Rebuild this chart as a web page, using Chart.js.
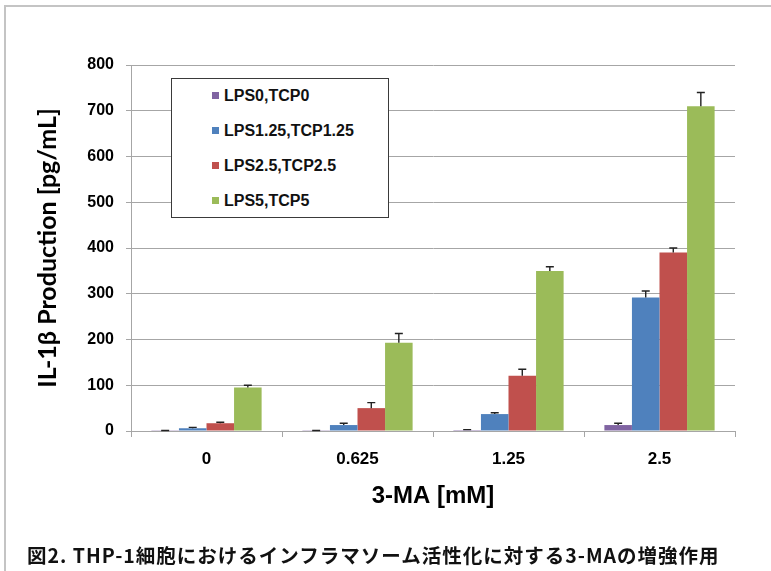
<!DOCTYPE html>
<html>
<head>
<meta charset="utf-8">
<script src="https://cdn.jsdelivr.net/npm/chart.js@4"></script>
<style>
  html, body { margin: 0; padding: 0; background: #fff; }
  #wrap { position: relative; width: 771px; height: 571px; overflow: hidden; background: #fff; }
  #frame { position: absolute; left: 4px; top: 5px; width: 780px; height: 580px;
           border-top: 2px solid #c4c4c4; border-left: 2px solid #c4c4c4; }
  canvas { position: absolute; left: 0; top: 0; }
  #legend { position: absolute; left: 171px; top: 78px; width: 218px; height: 140px;
            border: 1.3px solid #3a3a3a; background: #fff; box-sizing: border-box; }
  .item { position: absolute; left: 40px; height: 20px; line-height: 20px;
          font: bold 16px "Liberation Sans", Arial, sans-serif; color: #111; white-space: nowrap; }
  .sw { display: inline-block; width: 7px; height: 7px; margin-right: 5px; vertical-align: 2px; }
  #caption { position: absolute; left: 27px; top: 540px; white-space: nowrap;
             font: bold 19.5px "Noto Sans CJK JP", sans-serif; color: #111; letter-spacing: 1px; }
</style>
</head>
<body>
<div id="wrap">
  <div id="frame"></div>
  <canvas id="c" width="771" height="571"></canvas>
  <div id="legend"></div>
  <div id="caption">図2. THP-1細胞におけるインフラマソーム活性化に対する3-MAの増強作用</div>
</div>
<script>
const categories = ['0', '0.625', '1.25', '2.5'];
const seriesNames = ['LPS0,TCP0', 'LPS1.25,TCP1.25', 'LPS2.5,TCP2.5', 'LPS5,TCP5'];
const seriesColors = ['#8064A2', '#4F81BD', '#C0504D', '#9BBB59'];
const lps0 = [0.5, 0.5, 2, 13];
const lps0Err = [0.5, 0.5, 1, 4];
const lps125 = [6, 13, 37, 292];
const lps125Err = [2, 4, 3, 14];
const lps25 = [17, 50, 121, 390];
const lps25Err = [2, 12, 14, 10];
const lps5 = [95, 193, 350, 710];
const lps5Err = [5, 20, 9, 30];
const yTicks = [0, 100, 200, 300, 400, 500, 600, 700, 800];
const xTitle = '3-MA [mM]';
const yTitle = 'IL-1β Production [pg/mL]';

const values = [lps0, lps125, lps25, lps5];
const errors = [lps0Err, lps125Err, lps25Err, lps5Err];

const datasets = seriesNames.map((name, i) => ({
  label: name,
  data: values[i],
  errors: errors[i],
  backgroundColor: seriesColors[i],
  borderWidth: 0,
  categoryPercentage: 0.73,
  barPercentage: 1.0
}));

// legend (HTML, from series arrays)
const legend = document.getElementById('legend');
seriesNames.forEach((name, i) => {
  const d = document.createElement('div');
  d.className = 'item';
  d.style.top = (8 + i * 35) + 'px';
  d.innerHTML = '<span class="sw" style="background:' + seriesColors[i] + '"></span>' + name;
  legend.appendChild(d);
});

const errorBars = {
  id: 'errorBars',
  afterDatasetsDraw(chart) {
    const ctx = chart.ctx;
    const y = chart.scales.y;
    chart.data.datasets.forEach((ds, i) => {
      const meta = chart.getDatasetMeta(i);
      meta.data.forEach((bar, j) => {
        const top = y.getPixelForValue(ds.data[j] + ds.errors[j]);
        ctx.save();
        ctx.strokeStyle = '#222';
        ctx.lineWidth = 1.4;
        ctx.beginPath();
        ctx.moveTo(bar.x, bar.y);
        ctx.lineTo(bar.x, top);
        ctx.moveTo(bar.x - 4, top);
        ctx.lineTo(bar.x + 4, top);
        ctx.stroke();
        ctx.restore();
      });
    });
  }
};

const gridColor = '#a6a6a6';

new Chart(document.getElementById('c'), {
  type: 'bar',
  data: { labels: categories, datasets },
  plugins: [errorBars],
  options: {
    responsive: false,
    animation: false,
    devicePixelRatio: 1,
    layout: { padding: { left: 33, top: 65, right: 36, bottom: 60 } },
    plugins: { legend: { display: false }, tooltip: { enabled: false } },
    scales: {
      x: {
        offset: true,
        grid: { display: true, drawOnChartArea: false, drawTicks: true, tickLength: 6, color: gridColor, offset: true },
        border: { color: gridColor, width: 1 },
        ticks: { color: '#000', padding: 12, font: { family: '"Liberation Sans", Arial, sans-serif', size: 17, weight: 'bold' } },
        title: { display: true, text: xTitle, color: '#000', padding: 0,
                 font: { family: '"Liberation Sans", Arial, sans-serif', size: 24, weight: 'bold' } },
        afterFit: s => { s.height = 80; }
      },
      y: {
        min: 0, max: 800,
        afterBuildTicks: s => { s.ticks = yTicks.map(v => ({ value: v })); },
        grid: { color: gridColor, lineWidth: 1, tickLength: 5 },
        border: { color: gridColor, width: 1 },
        ticks: { color: '#000', padding: 12, font: { family: '"Liberation Sans", Arial, sans-serif', size: 16, weight: 'bold' } },
        title: { display: true, text: yTitle, color: '#000', padding: 0,
                 font: { family: 'Lato, "Open Sans", sans-serif', size: 25, weight: 'bold' } },
        afterFit: s => { s.width = 98; }
      }
    }
  }
});
</script>
</body>
</html>
